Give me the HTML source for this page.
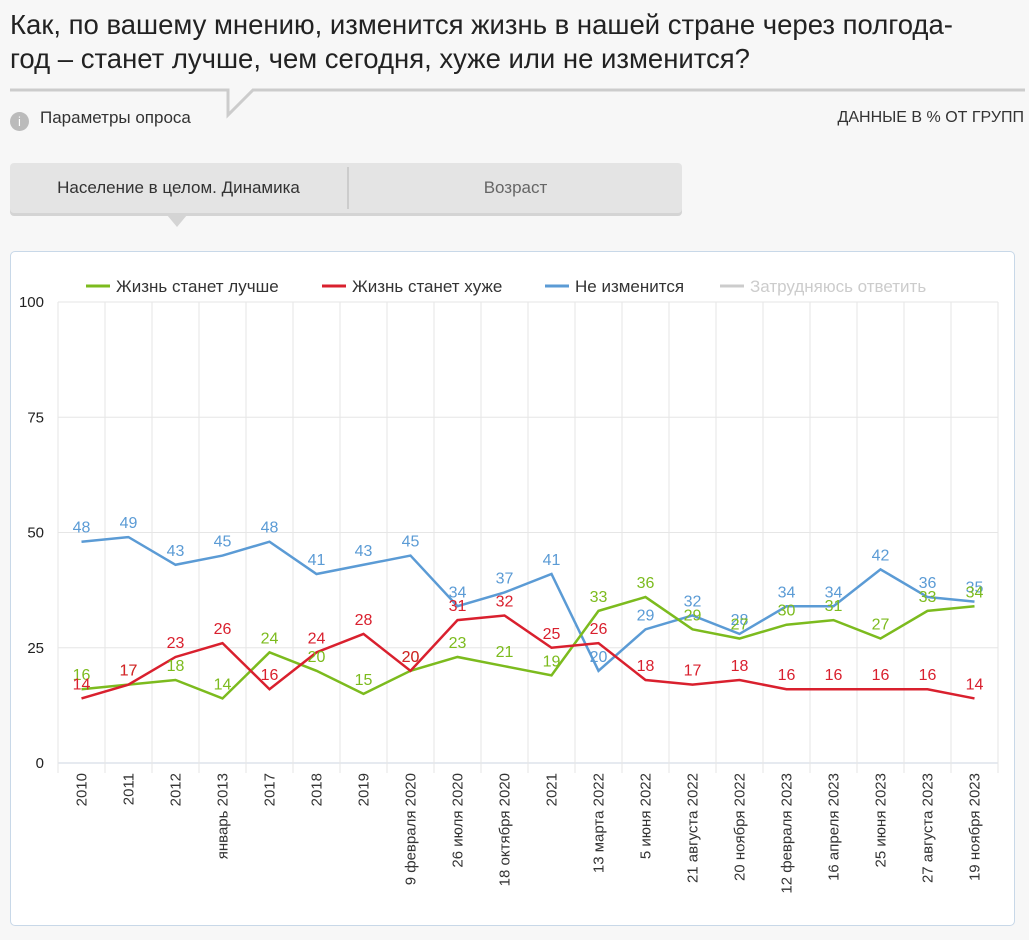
<!DOCTYPE html>
<html><head><meta charset="utf-8">
<style>
body{margin:0;width:1029px;height:940px;background:#f7f7f7;font-family:"Liberation Sans",Arial,sans-serif;overflow:hidden;position:relative}
.abs{position:absolute}
</style></head><body>
<div class="abs" style="left:10px;top:8px;font-size:27.5px;line-height:34px;color:#222;width:1010px;white-space:nowrap">Как, по вашему мнению, изменится жизнь в нашей стране через полгода-<br>год – станет лучше, чем сегодня, хуже или не изменится?</div>
<svg class="abs" style="left:0;top:0" width="1029" height="140">
<polyline points="10,90 228,90 228,115 253,90 1025,90" fill="none" stroke="#ccc" stroke-width="3"/>
</svg>
<div class="abs" style="left:10px;top:108px;font-size:17px;color:#333"><span style="display:inline-block;width:19px;height:19px;border-radius:50%;background:#bbb;color:#fff;font-size:13px;text-align:center;line-height:19px;margin-right:11px;vertical-align:-3px">i</span>Параметры опроса</div>
<div class="abs" style="right:5px;top:109px;font-size:16px;color:#333">ДАННЫЕ В % ОТ ГРУПП</div>
<div class="abs" style="left:10px;top:163px;width:672px;height:50px;background:#e4e4e4;border-radius:4px;box-shadow:0 3px 0 #d4d4d4">
<div class="abs" style="left:0;top:0;width:337px;height:50px;line-height:50px;text-align:center;font-size:17px;color:#333">Население в целом. Динамика</div>
<div class="abs" style="left:337px;top:4px;width:2px;height:42px;background:#ccc"></div>
<div class="abs" style="left:339px;top:0;width:333px;height:50px;line-height:50px;text-align:center;font-size:17px;color:#666">Возраст</div>
</div>
<div class="abs" style="left:167px;top:215px;width:0;height:0;border-left:10px solid transparent;border-right:10px solid transparent;border-top:12px solid #d4d4d4"></div>
<div class="abs" style="left:10px;top:251px;width:1003px;height:673px;background:#fff;border:1px solid #c8d8e8;border-radius:5px"></div>
<svg class="abs" id="chart" style="left:0;top:0" width="1029" height="940"></svg>
<script>
const categories=["2010","2011","2012","январь 2013","2017","2018","2019","9 февраля 2020","26 июля 2020","18 октября 2020","2021","13 марта 2022","5 июня 2022","21 августа 2022","20 ноября 2022","12 февраля 2023","16 апреля 2023","25 июня 2023","27 августа 2023","19 ноября 2023"];
const better=[16,17,18,14,24,20,15,20,23,21,19,33,36,29,27,30,31,27,33,34];
const worse=[14,17,23,26,16,24,28,20,31,32,25,26,18,17,18,16,16,16,16,14];
const same=[48,49,43,45,48,41,43,45,34,37,41,20,29,32,28,34,34,42,36,35];
const yTicks=[0,25,50,75,100];
const seriesNames=["Жизнь станет лучше","Жизнь станет хуже","Не изменится","Затрудняюсь ответить"];
const svg=document.getElementById('chart');const NS='http://www.w3.org/2000/svg';
const x0=58,x1=998,yT=302,yB=763;
const bw=(x1-x0)/categories.length;
const X=i=>x0+bw*(i+0.5);
const Y=v=>yB-(v/100)*(yB-yT);
function el(t,a,p){const e=document.createElementNS(NS,t);for(const k in a)e.setAttribute(k,a[k]);(p||svg).appendChild(e);return e;}
yTicks.forEach(v=>{
 const l=el('line',{x1:x0,x2:x1,y1:Y(v),y2:Y(v),stroke:v===0?'#ccd6e0':'#e6e6e6'});
 
 
 const t=el('text',{x:44,y:Y(v)+5,'text-anchor':'end','font-size':15,fill:'#222'});t.textContent=v;
 
 
});
for(let i=0;i<=categories.length;i++){
 const gx=x0+bw*i;
 const l=el('line',{x1:gx,x2:gx,y1:yT,y2:yB+10,stroke:'#e6e6e6'});
 
 
}
categories.forEach((c,i)=>{
 const t=el('text',{transform:`translate(${X(i)+5},${yB+10}) rotate(-90)`,'text-anchor':'end','font-size':15,fill:'#333'});t.textContent=c;
 
 
});
const series=[[same,'#5b9bd5','no-change'],[better,'#7cbb1e','better'],[worse,'#d9202e','worse']];
series.forEach(([d,col,n])=>{
 const p=el('polyline',{points:d.map((v,i)=>X(i)+','+Y(v)).join(' '),fill:'none',stroke:col,'stroke-width':2.5});
 
 
});
series.forEach(([d,col,n])=>{
 d.forEach((v,i)=>{
  const t=el('text',{x:X(i),y:Y(v)-9,'text-anchor':'middle','font-size':16,fill:col});t.textContent=v;
  
  
 });
});
const legCols=['#7cbb1e','#d9202e','#5b9bd5','#ccc'];const legX=[86,322,545,720];
seriesNames.forEach((s,i)=>{
 const g=el('g',{});
 
 
 el('line',{x1:legX[i],x2:legX[i]+24,y1:286,y2:286,stroke:legCols[i],'stroke-width':3},g);
 const t=el('text',{x:legX[i]+30,y:292,'font-size':17,fill:i===3?'#ccc':'#333'},g);t.textContent=s;
});
</script>
</body></html>
